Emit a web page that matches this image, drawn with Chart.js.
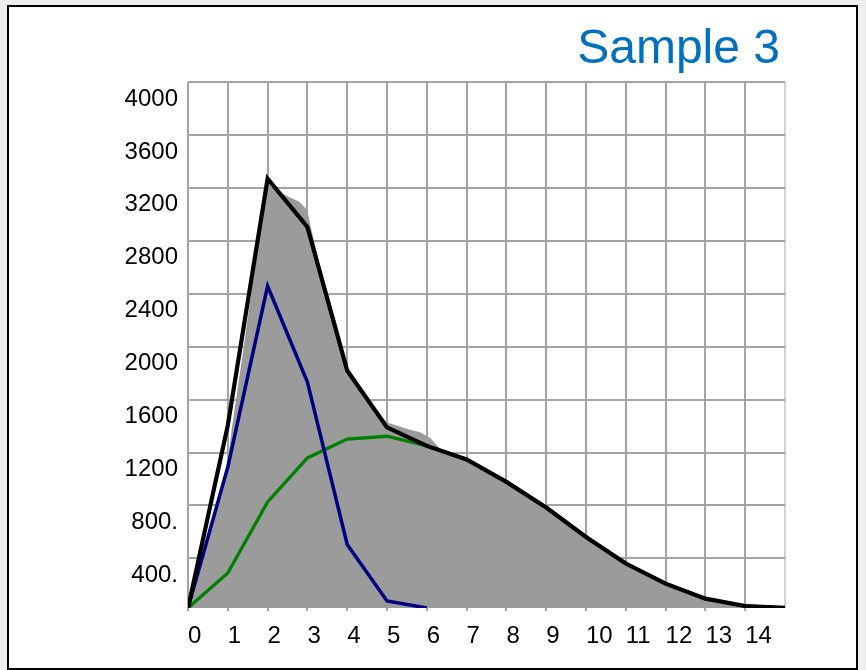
<!DOCTYPE html>
<html>
<head>
<meta charset="utf-8">
<title>Sample 3</title>
<script src="https://cdn.jsdelivr.net/npm/chart.js@4/dist/chart.umd.min.js"></script>
<style>
  html, body { margin: 0; background: #eeeeee; }
  #panel {
    position: absolute; left: 7px; top: 5px;
    width: 851px; height: 665px;
    box-sizing: border-box;
    border: 2px solid #000;
    background: #fff;
  }
  #chart { position: absolute; left: 0; top: 0; }
</style>
</head>
<body>
<div id="panel"><canvas id="chart" width="847" height="661"></canvas></div>
<script>
// ── Data ──
const titleText = 'Sample 3';

const xTickValues = [0, 1, 2, 3, 4, 5, 6, 7, 8, 9, 10, 11, 12, 13, 14, 15];
const xTickLabels = ['0', '1', '2', '3', '4', '5', '6', '7', '8', '9', '10', '11', '12', '13', '14', ''];
const yTickValues = [400, 800, 1200, 1600, 2000, 2400, 2800, 3200, 3600, 4000];
const yTickLabels = ['400.', '800.', '1200', '1600', '2000', '2400', '2800', '3200', '3600', '4000'];

// total curve (black), 0..15
const totalX = [0, 1, 2, 3, 4, 5, 6, 7, 8, 9, 10, 11, 12, 13, 14, 15];
const totalY = [25, 1405, 3270, 2905, 1820, 1390, 1250, 1147, 978, 784, 562, 361, 209, 96, 40, 26];

// first component (navy), 0..6
const firstX = [0, 1, 2, 3, 4, 5, 6];
const firstY = [25, 1090, 2458, 1733, 505, 78, 25];

// second component (green), runs under the total after 6
const secondX = [0, 1, 2, 3, 4, 5, 6, 7, 8, 9, 10, 11, 12, 13, 14, 15];
const secondY = [25, 290, 826, 1159, 1302, 1323, 1250, 1147, 978, 784, 562, 361, 209, 96, 40, 26];

// sampled distribution (grey area)
const sampleX = [0, 0.5, 0.97, 1.1, 1.4, 1.67, 1.9, 2.02, 2.1, 2.45, 2.8, 3.0, 3.08, 3.3, 3.75, 4.03,
                 4.5, 4.99, 5.49, 5.83, 6.08, 6.35, 7, 8, 9, 10, 11, 12, 13, 14, 15];
const sampleY = [25, 540, 1060, 1380, 2000, 2578, 3085, 3240, 3200, 3145, 3095, 3030, 2910, 2630, 2150, 1820,
                 1610, 1429, 1379, 1353, 1311, 1225, 1147, 978, 784, 562, 361, 209, 96, 40, 26];

const toPoints = (xs, ys) => xs.map((x, i) => ({ x, y: ys[i] }));

const FONT = '"Liberation Sans", Arial, sans-serif';
const GRID = '#a3a3a3';

// Title drawn in the top right corner, above the plot
const cornerTitle = {
  id: 'cornerTitle',
  afterDraw(chart) {
    const { ctx, chartArea } = chart;
    ctx.save();
    ctx.font = '48px ' + FONT;
    ctx.fillStyle = '#0070c0';
    ctx.textAlign = 'right';
    ctx.textBaseline = 'alphabetic';
    ctx.fillText(titleText, chartArea.right - 5, chartArea.top - 19);
    ctx.restore();
  }
};

const lineStyle = (color, width) => ({
  borderColor: color,
  borderWidth: width,
  pointRadius: 0,
  tension: 0,
  fill: false
});

new Chart(document.getElementById('chart'), {
  type: 'line',
  data: {
    datasets: [
      { label: 'Total', data: toPoints(totalX, totalY), ...lineStyle('#000000', 4.2) },
      { label: 'Component 1', data: toPoints(firstX, firstY), ...lineStyle('#000080', 3.5) },
      { label: 'Component 2', data: toPoints(secondX, secondY), ...lineStyle('#008000', 3.3) },
      {
        label: 'Sample',
        data: toPoints(sampleX, sampleY),
        borderColor: 'rgba(0,0,0,0)',
        borderWidth: 0,
        backgroundColor: '#9b9b9b',
        pointRadius: 0,
        tension: 0,
        fill: 'start'
      }
    ]
  },
  options: {
    responsive: false,
    animation: false,
    devicePixelRatio: 1,
    layout: { padding: { left: 0, right: 71, top: 75, bottom: 0 } },
    plugins: {
      legend: { display: false },
      tooltip: { enabled: false },
      title: { display: false }
    },
    scales: {
      x: {
        type: 'linear',
        min: 0,
        max: 15,
        afterBuildTicks: s => { s.ticks = xTickValues.map(v => ({ value: v })); },
        afterFit: s => { s.height = 60; },
        border: { display: false },
        grid: {
          color: c => (c.tick && c.tick.value === 15 ? '#d2d2d2' : GRID),
          tickColor: c => (c.tick && c.tick.value === 15 ? 'rgba(0,0,0,0)' : GRID),
          lineWidth: 2,
          tickLength: 3
        },
        ticks: {
          autoSkip: false,
          maxRotation: 0,
          align: 'start',
          padding: 11,
          color: '#000',
          font: { family: FONT, size: 24 },
          callback: (v, i) => xTickLabels[i]
        }
      },
      y: {
        type: 'linear',
        min: 25,
        max: 4000,
        afterBuildTicks: s => { s.ticks = yTickValues.map(v => ({ value: v })); },
        afterFit: s => { s.width = 179; },
        border: { display: false },
        grid: { color: GRID, lineWidth: 2, drawTicks: false },
        ticks: {
          padding: 10,
          labelOffset: 17,
          color: '#000',
          font: { family: FONT, size: 24 },
          callback: (v, i) => yTickLabels[i]
        }
      }
    }
  },
  plugins: [cornerTitle]
});
</script>
</body>
</html>
